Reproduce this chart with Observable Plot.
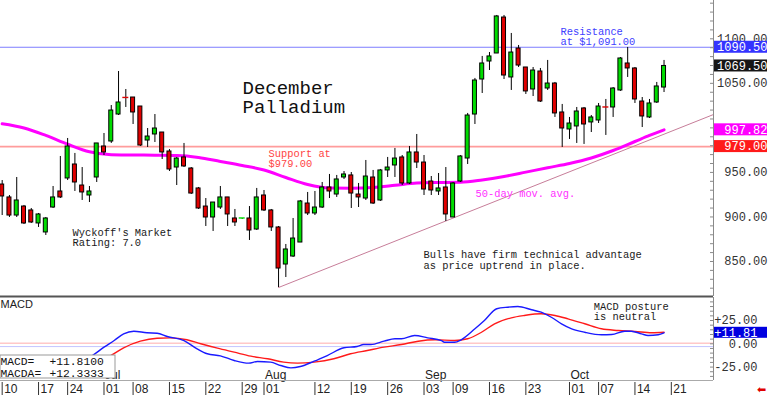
<!DOCTYPE html>
<html><head><meta charset="utf-8">
<script src="https://cdn.jsdelivr.net/npm/d3@7"></script>
<script src="https://cdn.jsdelivr.net/npm/@observablehq/plot@0.6"></script>
<style>
html,body{margin:0;padding:0;background:#fff;}
#chart{width:768px;height:396px;position:relative;overflow:hidden;background:#fff;}
#chart svg{display:block;}
</style></head><body><div id="chart"></div>
<script>
// ---------- DATA ----------
// trading-day index 0 = Jun 10 ... 91 = Oct 18
const candleOpen = [936.4,921.9,901.6,911.7,907.3,892.7,882.6,910.6,928.6,943.2,
958.9,935.3,924.1,944.3,979.1,984.7,1015.0,1034.1,1034.1,1024.0,
985.8,992.6,994.8,973.5,955.5,966.8,954.4,932.0,911.7,899.4,
910.6,921.9,898.3,897.2,898.3,885.9,924.1,907.3,888.2,846.6,
855.6,871.3,915.1,903.9,910.6,933.1,925.2,944.3,946.6,925.2,
920.7,944.3,918.5,952.2,957.8,966.8,937.6,972.4,961.1,939.8,
928.6,933.1,899.4,939.8,965.6,1015.0,1054.3,1074.5,1083.5,1123.9,
1056.6,1089.1,1067.8,1043.1,1063.3,1044.2,1049.8,1017.3,998.2,1001.6,
1021.8,1006.1,1008.3,1023.5,1022.9,1042.0,1072.3,1066.7,1029.6,1011.7,
1028.5,1045.3];
const candleHigh = [940.9,924.1,944.3,912.9,909.5,903.9,899.4,934.2,967.9,988.1,
971.3,955.5,934.2,982.5,993.7,1025.1,1063.3,1043.1,1034.1,1024.0,
999.3,1015.0,994.8,975.7,966.8,982.5,955.5,933.1,920.7,916.2,
934.2,921.9,908.4,898.3,911.7,932.0,929.7,908.4,889.3,869.1,
898.3,918.5,927.5,928.6,938.7,947.7,946.6,951.0,949.9,937.6,
963.4,952.2,953.3,966.8,976.9,969.0,979.1,992.6,969.0,945.4,
948.8,955.5,938.7,969.0,1016.2,1055.5,1080.2,1084.6,1126.2,1126.2,
1106.0,1092.5,1067.8,1067.8,1066.7,1075.7,1051.0,1026.3,1011.7,1022.9,
1022.9,1013.9,1027.4,1031.9,1045.3,1079.0,1090.3,1067.8,1034.1,1031.9,
1051.0,1075.7];
const candleLow = [901.6,899.4,899.4,891.5,892.7,888.2,879.2,909.5,920.7,940.9,
928.6,918.5,916.2,938.7,969.0,982.5,1013.9,1022.9,1003.8,979.1,
978.0,983.6,964.5,951.0,935.3,955.5,925.2,908.4,889.3,883.7,
908.4,889.3,889.3,897.2,873.6,884.8,906.1,883.7,820.8,832.0,
854.5,871.3,901.6,901.6,909.5,920.7,921.9,942.1,909.5,910.6,
918.5,914.0,917.4,944.3,944.3,935.3,936.4,954.4,924.1,924.1,
924.1,894.9,899.4,938.7,958.9,1003.8,1038.6,1064.4,1083.5,1054.3,
1042.0,1067.8,1037.5,1035.2,1028.5,1042.0,1011.7,978.0,987.0,982.5,
981.4,994.8,1004.9,991.5,1011.7,1040.9,1056.6,1027.4,1000.4,1010.5,
1027.4,1039.7];
const candleClose = [923.0,901.6,918.5,892.7,893.8,902.8,898.3,921.9,921.9,979.1,
938.7,927.5,928.6,982.5,972.4,1019.5,1028.5,1033.6,1017.3,980.2,
990.3,999.3,972.4,953.3,965.6,956.7,926.3,909.5,899.4,916.2,
921.9,902.8,893.8,898.3,884.8,921.9,907.3,888.2,842.1,863.5,
875.8,917.4,903.9,910.6,933.1,928.6,942.1,947.7,926.3,921.9,
945.4,915.1,952.2,955.5,965.6,937.6,972.4,961.1,930.8,929.7,
932.0,902.8,937.6,967.9,1013.9,1053.2,1072.3,1080.2,1125.1,1058.8,
1084.6,1070.0,1040.9,1064.4,1029.6,1049.8,1016.2,999.3,1004.9,1018.4,
1003.8,1011.7,1024.0,1022.9,1044.2,1077.9,1066.7,1031.9,1012.8,1027.4,
1046.5,1069.5];

const maIndex = [0,3,6,9,12,15,18,21,24,27,30,33,36,39,42,45,48,51,54,57,60,63,66,69,72,75,78,81,84,87,89,91];
const maValue = [1004.6,999.9,991.5,981.7,973.2,969.9,969.6,969.3,969.0,966.8,962.3,957.8,952.7,944.3,936.4,932.5,932.3,933.1,935.5,938.1,938.7,938.9,941.5,945.4,950.3,955.3,960.0,966.2,974.6,984.7,991.5,997.82];

const trendIndex = [38, 97.8];
const trendValue = [820.8, 1015.0];

const resistance = 1090.5, support = 979.0, lastClose = 1069.5, lastMA = 997.82;

const macdIndex = [10,12.4,14.0,15.4,16.7,18.1,19.9,21.3,22.7,25.0,
26.8,28.2,30.0,31.9,33.9,35.1,36.9,38.3,39.7,41.0,
42.9,44.7,47.0,48.8,49.7,50.7,52.5,54.0,54.9,56.7,
58.5,60.4,60.8,62.2,63.1,65.0,66.3,68.0,69.5,70.9,
72.8,74.1,75.5,76.9,78.3,80.1,82.4,83.8,85.6,86.5,
87.9,88.8,90.2,91];
const macdValue = [-22,-12.6,-3.6,3.5,10.7,13.5,11.8,11.4,7.8,3.5,
-5.4,-10.7,-12.9,-17.9,-20.8,-19.0,-19.7,-23.3,-25.8,-24.4,
-18.7,-12.6,-4.3,-2.9,-0.8,-0.8,2.8,5.4,5.4,8.9,
6.4,3.5,1.7,1.7,4.3,16.1,25.0,37.6,39.3,40.0,
36.5,33.9,28.5,21.5,16.1,12.4,9.7,10.0,13.5,13.5,
10.7,8.9,9.7,11.81];
const signalIndex = [12,14.9,16.7,19.0,21.3,23.1,25.4,27.3,29.6,31.9,
34.2,36.5,38.7,40.6,42.9,45.6,47.9,50.2,52.5,54.9,
57.2,59.5,62.2,64.0,65.9,67.7,70.0,71.8,74.1,76.0,
77.8,80.1,82.4,84.7,87.0,89.3,91];
const signalValue = [-20,-12.6,-4.3,2.8,6.0,6.4,4.3,0,-4.7,-9.0,
-13.3,-16.1,-19.7,-20.8,-19.7,-16.1,-10.7,-7.2,-3.6,-0.8,
2.8,4.3,3.5,5.4,12.4,21.5,27.9,30.4,32.2,30.4,
26.8,21.5,16.1,14.3,13.2,11.8,12.33];
const lastMACD = 11.81;
const macdBoxText = ["MACD=", "MACDA="];
const macdBoxValues = ["+11.8100", "+12.3333"];
const macdRefLines = [0.6, -3];

const priceTicks = [850, 900, 950, 1050, 1100];
const macdTicks = [25, 0, -25];
const dayTickIndex = [0,5,9,14,18,23,28,33,36,43,48,53,58,62,67,72,78,82,87,92];
const dayTickLabel = ["10","17","24","01","08","15","22","29","01","12","19","26","03","09","16","23","01","07","14","21"];
const monthTickIndex = [14,36,58,78];
const monthTickLabel = ["Jul","Aug","Sep","Oct"];

// ---------- CHART ----------
const mono = "'Liberation Mono','DejaVu Sans Mono',monospace";
const sans = "'Liberation Sans',Arial,sans-serif";
const xDomain = [-0.23, 97.8];
const xMax = xDomain[1];
const priceDomain = [810.7, 1143.0];
const macdDomain = [-39.4, 49.7];
const up = "#00dc00", down = "#e00000";

const candles = candleOpen.map((o, i) => ({i, o, h: candleHigh[i], l: candleLow[i], c: candleClose[i]}));
const bodies = candles.filter(d => Math.abs(d.c - d.o) >= 1.5);
const dojis = candles.filter(d => Math.abs(d.c - d.o) < 1.5);
const ma = maIndex.map((x, k) => ({x, y: maValue[k]}));
const trend = trendIndex.map((x, k) => ({x, y: trendValue[k]}));
const macd = macdIndex.map((x, k) => ({x, y: macdValue[k]}));
const signal = signalIndex.map((x, k) => ({x, y: signalValue[k]}));
const dayTicks = dayTickIndex.map((i, k) => ({i, label: dayTickLabel[k]}));
const monthTicks = monthTickIndex.map((i, k) => ({i, label: monthTickLabel[k]}));
const boxValues = [resistance, lastClose, lastMA, support];
const boxFill = ["#3434ff", "#161616", "#ff00ff", "#ff1a1a"];

const note = (txt, dx, dy, opts = {}) => Plot.text([txt], Object.assign({
  frameAnchor: "top-left", dx, dy, lineAnchor: "middle", textAnchor: "start",
  fontFamily: mono, fontSize: 10.4, fill: "#1a1a1a"}, opts));

const main = Plot.plot({
  width: 768, height: 297,
  marginLeft: 0, marginRight: 55, marginTop: 0, marginBottom: 1,
  style: {background: "#fff", overflow: "visible"},
  x: {domain: xDomain, axis: null},
  y: {domain: priceDomain, axis: null},
  color: {type: "identity"},
  marks: [
    Plot.ruleY([support], {stroke: "#ff9c9c", strokeWidth: 1.7}),
    Plot.ruleY([resistance], {stroke: "#7d7dff", strokeWidth: 1}),
    Plot.line(trend, {x: "x", y: "y", stroke: "#c77d99", strokeWidth: 1}),
    Plot.line(ma, {x: "x", y: "y", stroke: "#ff00ff", strokeWidth: 3, curve: "monotone-x"}),
    Plot.ruleX(candles, {x: "i", y1: "l", y2: "h", stroke: "#000", strokeWidth: 1}),
    Plot.rect(bodies, {x1: "i", x2: "i", y1: "o", y2: "c", insetLeft: -2, insetRight: -2,
      fill: d => d.c > d.o ? up : down, stroke: "#000", strokeWidth: 1}),
    Plot.rect(dojis, {x1: "i", x2: "i", y1: "c", y2: "c", insetLeft: -3, insetRight: -3, insetTop: -0.7, insetBottom: -0.7,
      fill: d => d.c > d.o ? up : down}),
    // notes
    note("December", 242, 87.5, {fontSize: 19, fill: "#111"}),
    note("Palladium", 242, 106, {fontSize: 19, fill: "#111"}),
    note("Resistance", 560, 30.7, {fill: "#4040ff"}),
    note("at $1,091.00", 560, 40.8, {fill: "#4040ff"}),
    note("Support at", 268, 153.3, {fill: "#ff4444"}),
    note("$979.00", 268, 163.3, {fill: "#ff4444"}),
    note("50-day mov. avg.", 475, 193.3, {fill: "#ff30ff"}),
    note("Wyckoff's Market", 72, 231.7),
    note("Rating: 7.0", 72, 241.7),
    note("Bulls have firm technical advantage", 423, 254),
    note("as price uptrend in place.", 423, 265),
    // right axis
    Plot.ruleX([xMax], {stroke: "#8a8a8a"}),
    Plot.ruleY(d3.range(820, 1141, 10), {x1: xMax, x2: xMax, insetLeft: -3, stroke: "#8a8a8a"}),
    Plot.text(priceTicks, {y: d => d, frameAnchor: "right", dx: 54, textAnchor: "end",
      text: d => d.toFixed(2), fontFamily: mono, fontSize: 12, fill: "#333"}),
    Plot.rect(boxValues, {x1: xMax, x2: xMax, y1: d => d, y2: d => d, insetLeft: 1, insetRight: -54,
      insetTop: -6, insetBottom: -6, fill: (d, k) => boxFill[k]}),
    Plot.text(boxValues, {y: d => d, frameAnchor: "right", dx: 54, textAnchor: "end",
      text: d => d.toFixed(2), fontFamily: mono, fontSize: 12, fill: "#fff"}),
    Plot.ruleY([priceDomain[0]], {stroke: "#555", strokeWidth: 2})
  ]
});

const macdPlot = Plot.plot({
  width: 768, height: 99,
  marginLeft: 0, marginRight: 55, marginTop: 0, marginBottom: 16,
  style: {background: "#fff", overflow: "visible"},
  x: {domain: xDomain, axis: null},
  y: {domain: macdDomain, axis: null},
  marks: [
    Plot.ruleY([macdRefLines[0]], {stroke: "#ffc8c8", strokeWidth: 1.5}),
    Plot.ruleY([macdRefLines[1]], {stroke: "#c4c4ff", strokeWidth: 1}),
    Plot.line(signal, {x: "x", y: "y", stroke: "#ff1a1a", strokeWidth: 1.4, curve: "monotone-x"}),
    Plot.line(macd, {x: "x", y: "y", stroke: "#1a1aff", strokeWidth: 1.4, curve: "monotone-x"}),
    Plot.text(monthTicks, {x: "i", frameAnchor: "bottom", dy: -5, dx: 1, textAnchor: "start", lineAnchor: "middle",
      text: "label", fontFamily: sans, fontSize: 12, fill: "#222"}),
    // value box
    Plot.rect([0], {x1: xDomain[0], x2: xDomain[0], y1: macdDomain[0], y2: macdDomain[0],
      insetLeft: 0, insetRight: -115, insetTop: -25, insetBottom: 2, fill: "#fff", stroke: "#999"}),
    Plot.text(macdBoxText, {frameAnchor: "bottom-left", dx: 0, dy: (d, k) => 0, textAnchor: "start", lineAnchor: "middle",
      fontFamily: mono, fontSize: 11.3, fill: "#111", filter: (d, k) => k === 0, dy: -19}),
    Plot.text(macdBoxText, {frameAnchor: "bottom-left", dx: 0, textAnchor: "start", lineAnchor: "middle",
      fontFamily: mono, fontSize: 11.3, fill: "#111", filter: (d, k) => k === 1, dy: -7.3}),
    Plot.text(macdBoxValues, {frameAnchor: "bottom-left", dx: 49, textAnchor: "start", lineAnchor: "middle",
      fontFamily: mono, fontSize: 11.3, fill: "#111", filter: (d, k) => k === 0, dy: -19}),
    Plot.text(macdBoxValues, {frameAnchor: "bottom-left", dx: 49, textAnchor: "start", lineAnchor: "middle",
      fontFamily: mono, fontSize: 11.3, fill: "#111", filter: (d, k) => k === 1, dy: -7.3}),
    note("MACD", 0, 7, {fontFamily: sans, fontSize: 11, fill: "#222"}),
    note("MACD posture", 593.3, 8.7),
    note("is neutral", 593.3, 19),
    // right axis
    Plot.ruleX([xMax], {stroke: "#8a8a8a"}),
    Plot.ruleY(d3.range(-35, 50, 5), {x1: xMax, x2: xMax, insetLeft: -3, stroke: "#8a8a8a"}),
    Plot.text(macdTicks, {y: d => d, frameAnchor: "right", dx: 44, textAnchor: "end",
      text: d => (d > 0 ? "+" : "") + d.toFixed(2), fontFamily: mono, fontSize: 12, fill: "#333"}),
    Plot.rect([lastMACD], {x1: xMax, x2: xMax, y1: d => d, y2: d => d, insetLeft: 1, insetRight: -54,
      insetTop: -5.5, insetBottom: -5.5, fill: "#0000e0"}),
    Plot.text([lastMACD], {y: d => d, frameAnchor: "right", dx: 44, textAnchor: "end",
      text: d => "+" + d.toFixed(2), fontFamily: mono, fontSize: 12, fill: "#fff"}),
    Plot.ruleY([macdDomain[0]], {stroke: "#aaa", strokeWidth: 1}),
    // date axis
    Plot.ruleX(dayTicks, {x: "i", insetTop: 85, insetBottom: -15, stroke: "#333"}),
    Plot.text(dayTicks, {x: "i", frameAnchor: "bottom", dy: 8.3, dx: 2, textAnchor: "start", lineAnchor: "middle",
      text: "label", fontFamily: sans, fontSize: 12, fill: "#222"}),
    Plot.text(["\u2B05"], {frameAnchor: "bottom-right", dx: 48, dy: 8.5, textAnchor: "middle", lineAnchor: "middle",
      fontFamily: "'DejaVu Sans',sans-serif", fontSize: 11, fill: "#e00000"})
  ]
});

const host = document.getElementById("chart");
host.appendChild(main);
host.appendChild(macdPlot);
</script>
</body></html>
